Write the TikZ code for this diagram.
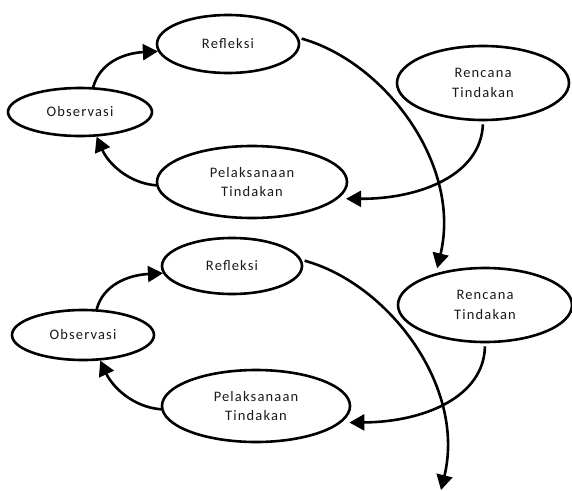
\documentclass[tikz,border=0pt]{standalone}
\usepackage{fontspec}
\setmainfont{Carlito}[LetterSpace=8]
\usetikzlibrary{shapes.geometric,arrows.meta}
\tikzset{
  el/.style={ellipse,draw=black,line width=2.6pt,inner sep=0pt,align=center,
    font=\fontsize{14.5}{19.5}\selectfont,text=black!90},
  arr/.style={line width=2.6pt,-{Triangle[length=15pt,width=16pt]}}
}
\begin{document}
\begin{tikzpicture}[x=1pt,y=-1pt]
\useasboundingbox (0,0) rectangle (572,490);
% top cycle
\node[el,minimum width=142pt,minimum height=58pt] (ref1) at (228,44) {Refleksi};
\node[el,minimum width=144pt,minimum height=48pt] (obs1) at (80,112) {Observasi};
\node[el,minimum width=190pt,minimum height=72pt] (pel1) at (252,182) {Pelaksanaan\\Tindakan};
\node[el,minimum width=172pt,minimum height=74pt] (ren1) at (483,83) {Rencana\\Tindakan};
% bottom cycle
\node[el,minimum width=140pt,minimum height=56pt] (ref2) at (232,266) {Refleksi};
\node[el,minimum width=142pt,minimum height=50pt] (obs2) at (83,335) {Observasi};
\node[el,minimum width=188pt,minimum height=72pt] (pel2) at (256,406) {Pelaksanaan\\Tindakan};
\node[el,minimum width=174pt,minimum height=74pt] (ren2) at (485,305) {Rencana\\Tindakan};
\coordinate (end) at (441,490);
% top connectors
\draw[arr] (obs1.62) .. controls (100,62) and (125,53) .. (ref1.186);
\draw[arr] (pel1.182) .. controls (128,183) and (108,163) .. (obs1.304);
\draw[arr,shorten <=3pt,shorten >=8pt] (ren1.270) .. controls (481,175) and (420,199) .. (pel1.-11);
\draw[arr,shorten <=3pt,shorten >=5pt] (ref1.5) .. controls (385,62) and (462,165) .. (ren2.147);
% bottom connectors
\draw[arr] (obs2.62) .. controls (103,285) and (128,275) .. (ref2.186);
\draw[arr] (pel2.182) .. controls (132,407) and (112,386) .. (obs2.304);
\draw[arr,shorten <=3pt,shorten >=8pt] (ren2.270) .. controls (484,397) and (424,422) .. (pel2.-11);
\draw[arr,shorten <=3pt] (ref2.5) .. controls (389,284) and (466,387) .. (end);
\end{tikzpicture}
\end{document}
